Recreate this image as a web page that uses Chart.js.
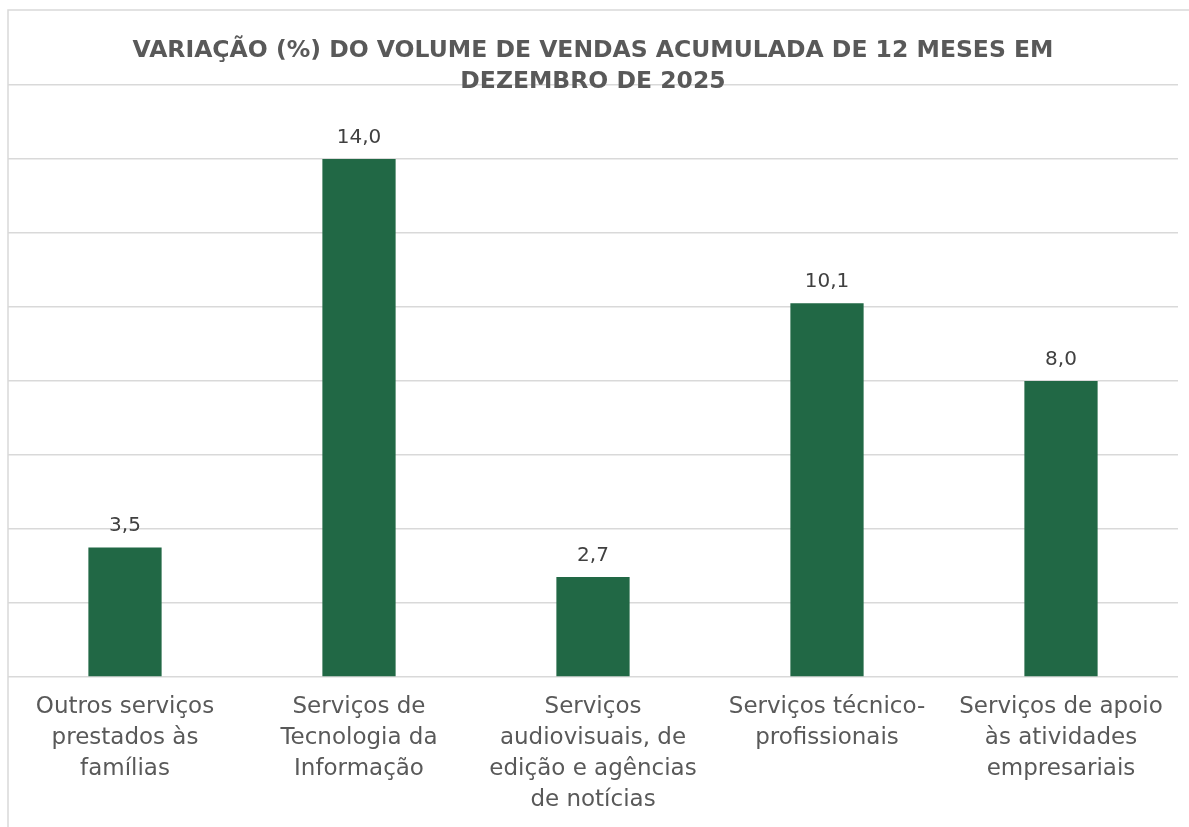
<!DOCTYPE html>
<html>
<head>
<meta charset="utf-8">
<script src="https://cdn.jsdelivr.net/npm/chart.js@4/dist/chart.umd.min.js"></script>
<style>
html,body{margin:0;padding:0;background:#fff;}
#wrap{width:1189px;height:827px;position:relative;}
</style>
</head>
<body>
<div id="wrap"><canvas id="c" width="1189" height="827"></canvas></div>
<script>
const titleLines = ["VARIAÇÃO (%) DO VOLUME DE VENDAS ACUMULADA DE 12 MESES EM", "DEZEMBRO DE 2025"];
const categories = [
  ["Outros serviços", "prestados às", "famílias"],
  ["Serviços de", "Tecnologia da", "Informação"],
  ["Serviços", "audiovisuais, de", "edição e agências", "de notícias"],
  ["Serviços técnico-", "profissionais"],
  ["Serviços de apoio", "às atividades", "empresariais"]
];
const values = [3.5, 14.0, 2.7, 10.1, 8.0];
const valueLabels = ["3,5", "14,0", "2,7", "10,1", "8,0"];
const yMin = 0, yMax = 16, yStep = 2;

const framePlugin = {
  id: 'frame',
  beforeDraw(chart) {
    const ctx = chart.ctx;
    ctx.save();
    ctx.strokeStyle = '#d9d9d9';
    ctx.lineWidth = 1.5;
    ctx.beginPath();
    ctx.moveTo(8, 827);
    ctx.lineTo(8, 10);
    ctx.lineTo(1189, 10);
    ctx.stroke();
    ctx.restore();
  },
  afterDraw(chart) {
    const ctx = chart.ctx;
    ctx.save();
    const meta = chart.getDatasetMeta(0);
    ctx.fillStyle = '#404040';
    ctx.font = '20px "DejaVu Sans"';
    ctx.textAlign = 'center';
    ctx.textBaseline = 'alphabetic';
    meta.data.forEach((bar, i) => {
      ctx.fillText(valueLabels[i], bar.x, bar.y - 16);
    });
    const ca = chart.chartArea;
    const cx = (ca.left + ca.right) / 2;
    ctx.fillStyle = '#595959';
    ctx.font = 'bold 23.5px "DejaVu Sans"';
    ctx.fillText(titleLines[0], cx, 57);
    ctx.fillText(titleLines[1], cx, 88);
    ctx.restore();
  }
};

new Chart(document.getElementById('c'), {
  type: 'bar',
  data: {
    labels: categories,
    datasets: [{
      data: values,
      backgroundColor: '#216845',
      borderWidth: 0,
      categoryPercentage: 1.0,
      barPercentage: 0.313
    }]
  },
  options: {
    responsive: false,
    animation: false,
    layout: { padding: { left: 8, right: 11, top: 85, bottom: -4 } },
    plugins: { legend: { display: false }, tooltip: { enabled: false }, title: { display: false } },
    scales: {
      x: {
        grid: { display: false, drawTicks: false },
        border: { display: false },
        ticks: {
          color: '#595959',
          font: { family: 'DejaVu Sans', size: 23, lineHeight: 1.348 },
          padding: 15,
          maxRotation: 0,
          autoSkip: false
        }
      },
      y: {
        min: yMin, max: yMax,
        ticks: { display: false, stepSize: yStep },
        grid: { color: '#d9d9d9', lineWidth: 1.5, drawTicks: false },
        border: { display: false }
      }
    }
  },
  plugins: [framePlugin]
});
</script>
</body>
</html>
